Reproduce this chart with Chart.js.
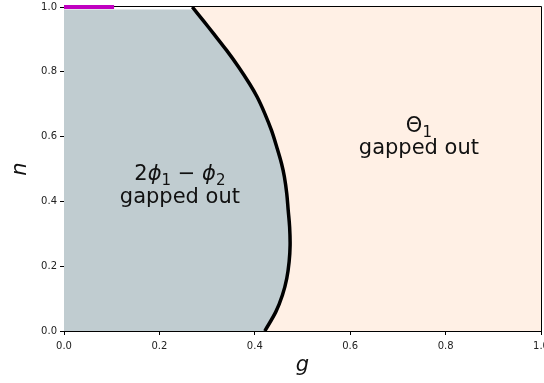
<!DOCTYPE html>
<html>
<head>
<meta charset="utf-8">
<script src="https://cdn.jsdelivr.net/npm/chart.js@4"></script>
<style>
  html, body { margin: 0; padding: 0; background: #fff; }
</style>
</head>
<body>
<canvas id="phaseChart" width="544" height="383"></canvas>
<script>
// phase boundary (g along x, n along y)
const boundaryN = [0.0, 0.059, 0.111, 0.162, 0.214, 0.265, 0.321, 0.373, 0.424, 0.476, 0.517,
                   0.568, 0.619, 0.671, 0.722, 0.763, 0.815, 0.866, 0.917, 0.958, 1.0];
const boundaryG = [0.421, 0.444, 0.458, 0.467, 0.472, 0.474, 0.473, 0.470, 0.467, 0.462, 0.456,
                   0.446, 0.435, 0.421, 0.405, 0.389, 0.366, 0.341, 0.314, 0.292, 0.269];

// magenta segment along the top edge
const magentaG = [0.0, 0.105];
const magentaN = [1.0, 1.0];

const gTicks = [0.0, 0.2, 0.4, 0.6, 0.8, 1.0];
const nTicks = [0.0, 0.2, 0.4, 0.6, 0.8, 1.0];

// region labels: g of the text centre, n of each line
const leftLabelG = 0.243, leftLabelN = [0.484, 0.413];
const rightLabelG = 0.744, rightLabelN = [0.632, 0.564];

const GREY = 'rgb(192,204,208)';
const PEACH = 'rgb(255,240,229)';

let curvePts = boundaryG.map((g, i) => ({x: g, y: boundaryN[i]}));
// closed region left of the boundary
let greyPts = [{x: 0, y: 0}].concat(curvePts, [{x: 0, y: 1}]);
let topEdge = [{x: 0, y: 1}, {x: boundaryG[boundaryG.length - 1], y: 1}];
let magentaPts = magentaG.map((g, i) => ({x: g, y: magentaN[i]}));

function drawRich(ctx, parts, cx, cy, size) {
  // parts: [text, style] style: '' roman, 'i' italic, 's' subscript
  let fontFor = (st) => {
    if (st === 's') return Math.round(size * 0.7) + 'px "DejaVu Sans"';
    if (st === 'i') return 'italic ' + size + 'px "DejaVu Sans"';
    return size + 'px "DejaVu Sans"';
  };
  let total = 0;
  parts.forEach(p => { ctx.font = fontFor(p[1]); total += ctx.measureText(p[0]).width; });
  let x = cx - total / 2;
  ctx.textBaseline = 'alphabetic';
  ctx.textAlign = 'left';
  parts.forEach(p => {
    ctx.font = fontFor(p[1]);
    let dy = p[1] === 's' ? size * 0.22 : 0;
    ctx.fillText(p[0], x, cy + dy);
    x += ctx.measureText(p[0]).width;
  });
}

const backdrop = {
  id: 'backdrop',
  beforeDatasetsDraw(chart) {
    const {ctx, chartArea: a} = chart;
    ctx.save();
    ctx.fillStyle = PEACH;
    ctx.fillRect(a.left, a.top, a.right - a.left, a.bottom - a.top);
    ctx.strokeStyle = '#000';
    ctx.lineWidth = 1;
    ctx.beginPath();
    ctx.moveTo(a.left, a.top - 0.5);
    ctx.lineTo(a.right + 0.5, a.top - 0.5);
    ctx.lineTo(a.right + 0.5, a.bottom);
    ctx.stroke();
    ctx.restore();
  },
  afterDatasetsDraw(chart) {
    const {ctx, scales} = chart;
    const fs = 21;
    ctx.save();
    ctx.fillStyle = '#111';
    let x = scales.x.getPixelForValue(leftLabelG);
    drawRich(ctx, [['2', ''], ['ϕ', 'i'], ['1', 's'], [' − ', ''], ['ϕ', 'i'], ['2', 's']],
      x, scales.y.getPixelForValue(leftLabelN[0]) + 6, fs);
    drawRich(ctx, [['gapped out', '']], x, scales.y.getPixelForValue(leftLabelN[1]) + 6, fs);
    x = scales.x.getPixelForValue(rightLabelG);
    drawRich(ctx, [['Θ', ''], ['1', 's']], x, scales.y.getPixelForValue(rightLabelN[0]) + 6, fs);
    drawRich(ctx, [['gapped out', '']], x, scales.y.getPixelForValue(rightLabelN[1]) + 6, fs);
    ctx.restore();
  }
};

function axisOpts(title, ticksArr, isX) {
  return {
    type: 'linear',
    min: 0,
    max: 1,
    afterBuildTicks: (s) => { s.ticks = ticksArr.map(v => ({value: v})); },
    afterFit: (s) => {
      // fixed axis sizes, no extra room for the edge tick labels
      if (isX) s.height = 52; else s.width = 64;
      s.paddingLeft = 0; s.paddingRight = 0;
      s.paddingTop = 0; s.paddingBottom = 0;
    },
    ticks: {
      callback: (v) => v.toFixed(1),
      color: '#222',
      font: {family: 'DejaVu Sans', size: 10},
      padding: isX ? 5 : 3,
      maxRotation: 0,
      autoSkip: false
    },
    grid: {drawOnChartArea: false, tickLength: 4, color: '#000', tickWidth: 1},
    border: {color: '#000', width: 1},
    title: {
      display: true,
      text: title,
      color: '#111',
      font: {family: 'DejaVu Sans', size: 21, style: 'italic'},
      padding: isX ? {top: 0, bottom: 5} : {top: 8, bottom: 0}
    }
  };
}

new Chart(document.getElementById('phaseChart'), {
  type: 'scatter',
  data: {
    datasets: [
      {
        label: 'region',
        data: greyPts,
        showLine: true,
        tension: 0,
        borderWidth: 0,
        borderColor: GREY,
        backgroundColor: GREY,
        fill: 'shape',
        pointRadius: 0,
        order: 4
      },
      {
        label: 'edge',
        data: topEdge,
        showLine: true,
        borderColor: '#fff',
        borderWidth: 5,
        pointRadius: 0,
        clip: 0,
        order: 3
      },
      {
        label: 'boundary',
        data: curvePts,
        showLine: true,
        tension: 0.35,
        borderColor: '#000',
        borderWidth: 3.5,
        pointRadius: 0,
        order: 2
      },
      {
        label: 'magenta',
        data: magentaPts,
        showLine: true,
        borderColor: '#c000c0',
        borderWidth: 4,
        borderCapStyle: 'butt',
        pointRadius: 0,
        clip: false,
        order: 1
      }
    ]
  },
  options: {
    responsive: false,
    animation: false,
    devicePixelRatio: 1,
    layout: {autoPadding: false, padding: {top: 7, right: 3, left: 0, bottom: 0}},
    plugins: {legend: {display: false}, tooltip: {enabled: false}},
    scales: {
      x: axisOpts('g', gTicks, true),
      y: axisOpts('n', nTicks, false)
    }
  },
  plugins: [backdrop]
});
</script>
</body>
</html>
